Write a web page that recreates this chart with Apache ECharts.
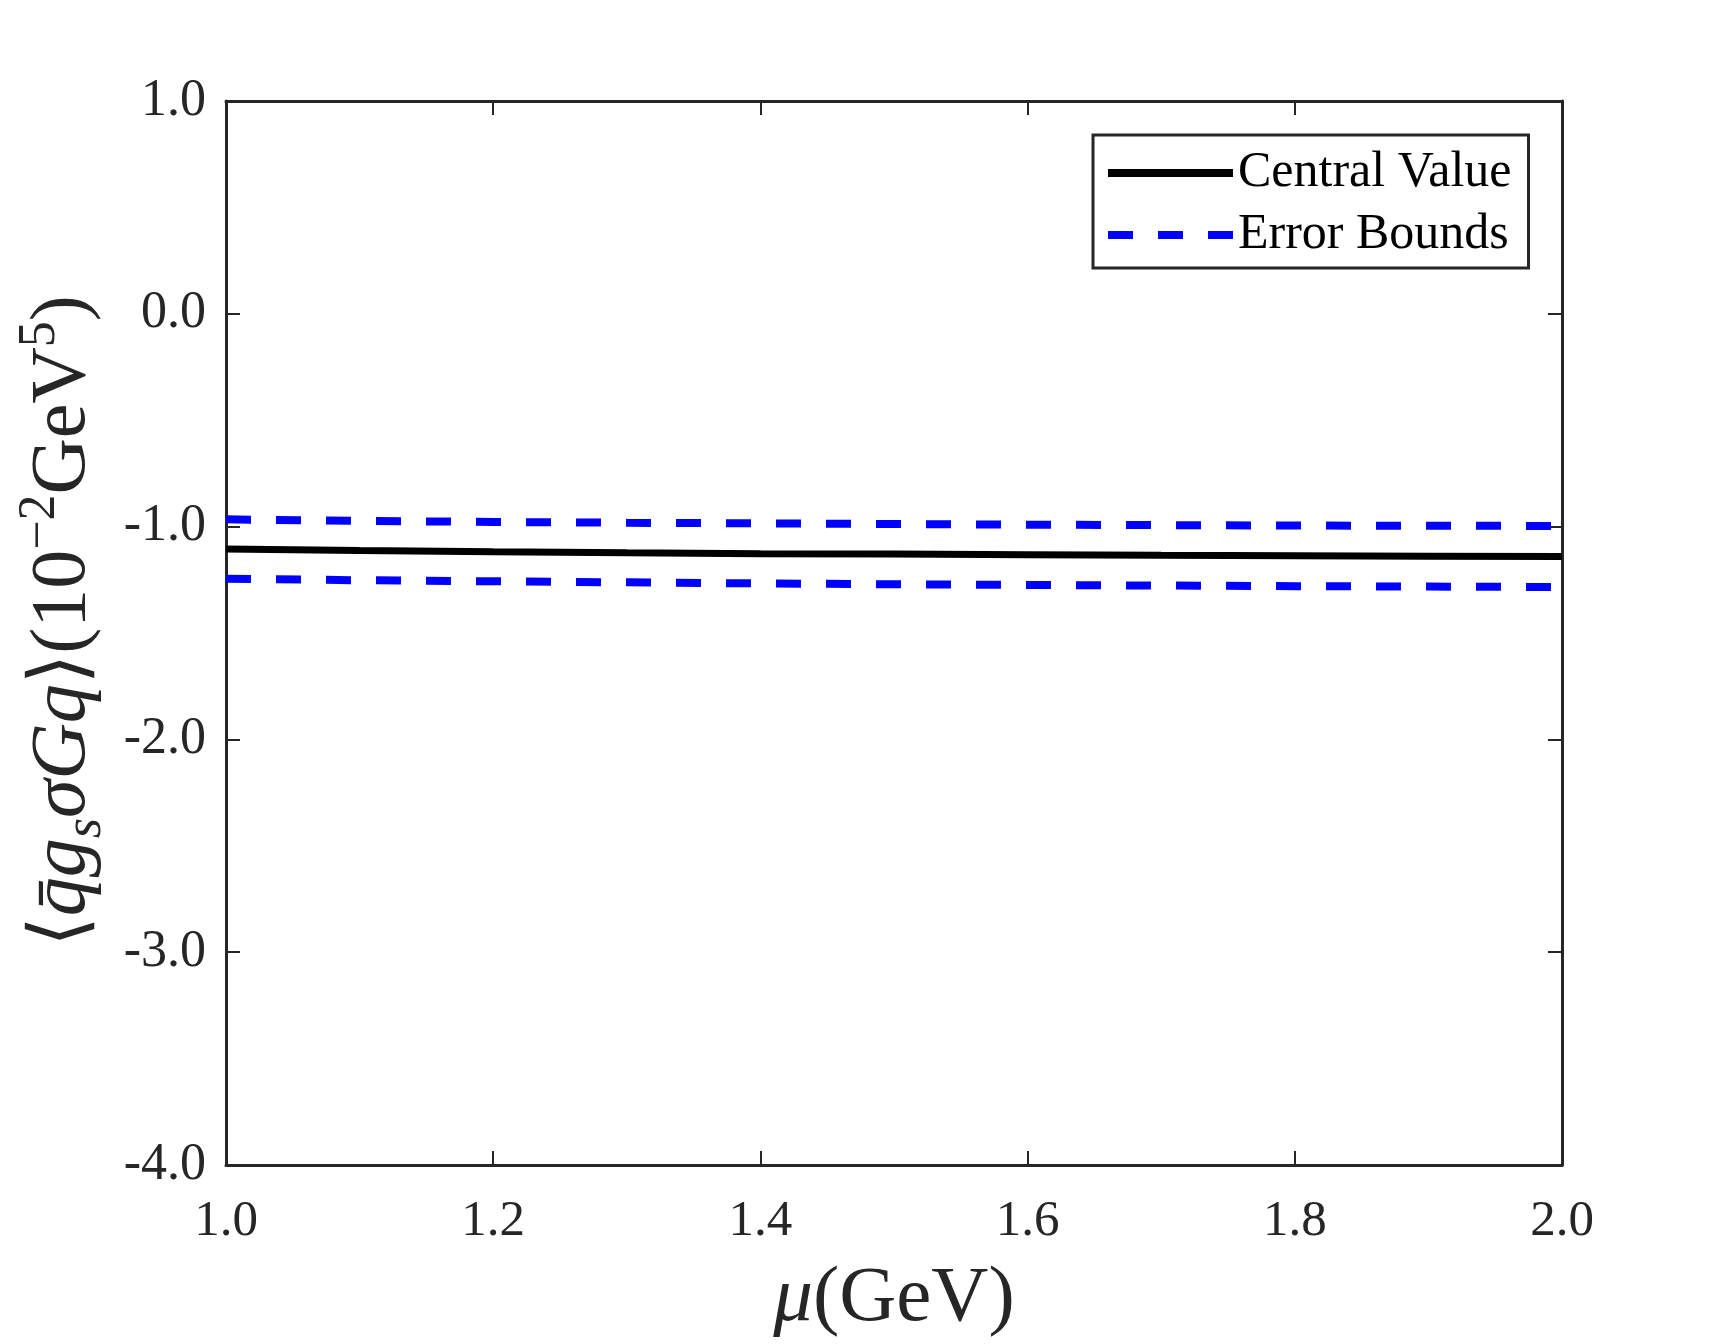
<!DOCTYPE html>
<html>
<head>
<meta charset="utf-8">
<script src="https://cdn.jsdelivr.net/npm/echarts@6/dist/echarts.min.js"></script>
<style>
  html, body { margin: 0; padding: 0; background: #fff; }
  #chart { width: 1729px; height: 1344px; }
</style>
</head>
<body>
<div id="chart"></div>
<script>
// mu (GeV)
const muValues = [1.0, 1.1, 1.2, 1.3, 1.4, 1.5, 1.6, 1.7, 1.8, 1.9, 2.0];
// <q g_s sigma G q> in 10^-2 GeV^5
const centralValue = [-1.105, -1.112, -1.118, -1.123, -1.127, -1.129, -1.132, -1.135, -1.137, -1.139, -1.141];
const upperBound = [-0.966, -0.973, -0.978, -0.982, -0.985, -0.988, -0.991, -0.993, -0.995, -0.996, -0.997];
const lowerBound = [-1.245, -1.252, -1.257, -1.262, -1.267, -1.271, -1.274, -1.277, -1.280, -1.282, -1.284];

const SERIF = "'Liberation Serif', 'DejaVu Serif', serif";
const INK = "#262626";

const pairs = (ys) => muValues.map((x, i) => [x, ys[i]]);

const boxAxis = {
  axisLine: { show: true, onZero: false, lineStyle: { color: INK, width: 3 } },
  axisTick: { show: true, inside: true, length: 14, lineStyle: { color: INK, width: 2 } },
  splitLine: { show: false },
};

// legend swatches: solid bar and three dashes, 125 x 8
const SOLID_ICON = "path://M0,0H125V8H0Z";
const DASH_ICON = "path://M0,0H25V8H0Z M50,0H75V8H50Z M100,0H125V8H100Z";

const chart = echarts.init(document.getElementById("chart"));
chart.setOption({
  backgroundColor: "#fff",
  animation: false,
  grid: { left: 226, right: 167, top: 101, bottom: 179, outerBoundsMode: "none" },
  legend: {
    left: 1093,
    top: 135,
    orient: "vertical",
    backgroundColor: "#fff",
    borderColor: INK,
    borderWidth: 3,
    padding: [13, 17, 8, 15],
    itemWidth: 125,
    itemHeight: 8,
    itemGap: 12,
    itemTextGap: 13,
    textStyle: { fontFamily: SERIF, fontSize: 50, lineHeight: 48, color: "#000" },
    data: [
      { name: "Central Value", icon: SOLID_ICON, itemStyle: { color: "#000" } },
      { name: "Error Bounds", icon: DASH_ICON, itemStyle: { color: "#0000ff" } },
    ],
  },
  xAxis: [
    {
      ...boxAxis,
      type: "value",
      min: 1.0,
      max: 2.0,
      interval: 0.2,
      position: "bottom",
      axisLabel: {
        margin: 31,
        fontFamily: SERIF,
        fontSize: 51,
        color: INK,
        formatter: (v) => v.toFixed(1),
      },
      name: "{it|μ}{rm|(GeV)}",
      nameLocation: "middle",
      nameGap: 95,
      nameTextStyle: {
        rich: {
          it: { fontFamily: SERIF, fontSize: 79, fontStyle: "italic", color: INK },
          rm: { fontFamily: SERIF, fontSize: 79, color: INK },
        },
      },
    },
    {
      ...boxAxis,
      type: "value",
      min: 1.0,
      max: 2.0,
      interval: 0.2,
      position: "top",
      axisLabel: { show: false },
    },
  ],
  yAxis: [
    {
      ...boxAxis,
      type: "value",
      min: -4,
      max: 1,
      interval: 1,
      position: "left",
      axisLabel: {
        margin: 20,
        fontFamily: SERIF,
        fontSize: 52,
        color: INK,
        formatter: (v) => v.toFixed(1),
      },
      name: "{rm|⟨}{it|q̄g}{sub|s}{it|σGq}{rm|⟩(10}{sup|−2}{rm|GeV}{sup|5}{rm|)}",
      nameLocation: "middle",
      nameRotate: 90,
      nameGap: 113,
      nameTextStyle: {
        padding: [0, 0, 0, 24],
        rich: {
          it: { fontFamily: SERIF, fontSize: 78, fontStyle: "italic", color: INK, lineHeight: 98 },
          rm: { fontFamily: SERIF, fontSize: 78, color: INK, lineHeight: 98 },
          sub: { fontFamily: SERIF, fontSize: 52, fontStyle: "italic", color: INK, verticalAlign: "bottom" },
          sup: { fontFamily: SERIF, fontSize: 52, color: INK, verticalAlign: "top" },
        },
      },
    },
    {
      ...boxAxis,
      type: "value",
      min: -4,
      max: 1,
      interval: 1,
      position: "right",
      axisLabel: { show: false },
    },
  ],
  series: [
    {
      name: "Central Value",
      type: "line",
      data: pairs(centralValue),
      symbol: "none",
      color: "#000",
      lineStyle: { color: "#000", width: 7 },
      z: 3,
    },
    {
      name: "Error Bounds",
      type: "line",
      data: pairs(upperBound),
      symbol: "none",
      color: "#0000ff",
      lineStyle: { color: "#0000ff", width: 8, type: [25, 25] },
    },
    {
      name: "Error Bounds",
      type: "line",
      data: pairs(lowerBound),
      symbol: "none",
      color: "#0000ff",
      lineStyle: { color: "#0000ff", width: 8, type: [25, 25] },
    },
  ],
});
</script>
</body>
</html>
